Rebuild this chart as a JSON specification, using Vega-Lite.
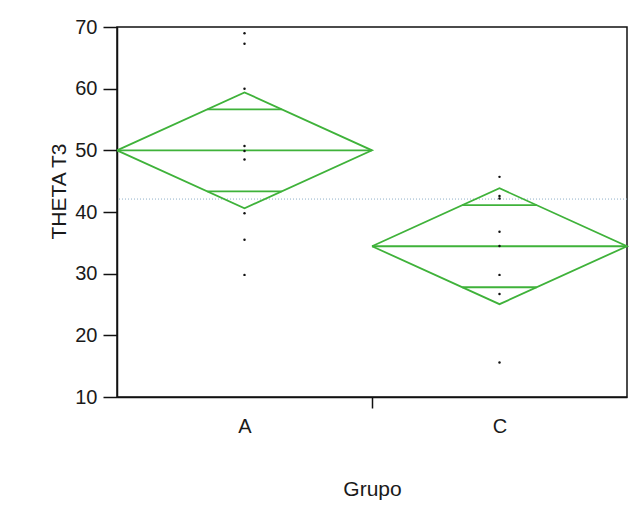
{
  "$schema": "https://vega.github.io/schema/vega-lite/v6.json",
  "width": 510,
  "height": 370,
  "autosize": {"type": "none"},
  "padding": {"left": 117, "top": 27, "right": 3, "bottom": 115},
  "background": "white",
  "config": {
    "font": "Liberation Sans",
    "view": {"stroke": "#111", "strokeWidth": 1.5},
    "axis": {
      "grid": false,
      "domainColor": "#111",
      "domainWidth": 1.5,
      "tickColor": "#111",
      "tickWidth": 1.5,
      "labelColor": "#1a1a1a",
      "labelFontSize": 20,
      "titleColor": "#1a1a1a",
      "titleFontSize": 21,
      "titleFontWeight": "normal"
    }
  },
  "datasets": {
    "points": [
      {"Grupo": "A", "pos": 0.5, "THETA T3": 69.0},
      {"Grupo": "A", "pos": 0.5, "THETA T3": 67.3},
      {"Grupo": "A", "pos": 0.5, "THETA T3": 60.0},
      {"Grupo": "A", "pos": 0.5, "THETA T3": 50.7},
      {"Grupo": "A", "pos": 0.5, "THETA T3": 49.9},
      {"Grupo": "A", "pos": 0.5, "THETA T3": 48.5},
      {"Grupo": "A", "pos": 0.5, "THETA T3": 39.8},
      {"Grupo": "A", "pos": 0.5, "THETA T3": 35.5},
      {"Grupo": "A", "pos": 0.5, "THETA T3": 29.8},
      {"Grupo": "C", "pos": 1.5, "THETA T3": 45.7},
      {"Grupo": "C", "pos": 1.5, "THETA T3": 42.6},
      {"Grupo": "C", "pos": 1.5, "THETA T3": 42.2},
      {"Grupo": "C", "pos": 1.5, "THETA T3": 36.8},
      {"Grupo": "C", "pos": 1.5, "THETA T3": 34.5},
      {"Grupo": "C", "pos": 1.5, "THETA T3": 29.8},
      {"Grupo": "C", "pos": 1.5, "THETA T3": 26.7},
      {"Grupo": "C", "pos": 1.5, "THETA T3": 15.6}
    ],
    "diamond": [
      {"Grupo": "A", "k": 0, "pos": 0.0, "THETA T3": 50.0},
      {"Grupo": "A", "k": 1, "pos": 0.5, "THETA T3": 59.4},
      {"Grupo": "A", "k": 2, "pos": 1.0, "THETA T3": 50.0},
      {"Grupo": "A", "k": 3, "pos": 0.5, "THETA T3": 40.6},
      {"Grupo": "A", "k": 4, "pos": 0.0, "THETA T3": 50.0},
      {"Grupo": "C", "k": 0, "pos": 1.0, "THETA T3": 34.45},
      {"Grupo": "C", "k": 1, "pos": 1.5, "THETA T3": 43.85},
      {"Grupo": "C", "k": 2, "pos": 2.0, "THETA T3": 34.45},
      {"Grupo": "C", "k": 3, "pos": 1.5, "THETA T3": 25.05},
      {"Grupo": "C", "k": 4, "pos": 1.0, "THETA T3": 34.45}
    ],
    "lines": [
      {"Grupo": "A", "line": "mean", "from": 0.0, "to": 1.0, "THETA T3": 50.0},
      {"Grupo": "A", "line": "overlap", "from": 0.354, "to": 0.646, "THETA T3": 56.65},
      {"Grupo": "A", "line": "overlap", "from": 0.354, "to": 0.646, "THETA T3": 43.35},
      {"Grupo": "C", "line": "mean", "from": 1.0, "to": 2.0, "THETA T3": 34.45},
      {"Grupo": "C", "line": "overlap", "from": 1.354, "to": 1.646, "THETA T3": 41.1},
      {"Grupo": "C", "line": "overlap", "from": 1.354, "to": 1.646, "THETA T3": 27.8}
    ],
    "grand": [{"THETA T3": 42.1}]
  },
  "layer": [
    {
      "data": {"name": "grand"},
      "mark": {"type": "rule", "color": "#8fb0c8", "strokeWidth": 1, "strokeDash": [1, 2]},
      "encoding": {
        "y": {
          "field": "THETA T3",
          "type": "quantitative",
          "scale": {"domain": [10, 70], "nice": false, "zero": false},
          "axis": {
            "title": "THETA T3",
            "values": [10, 20, 30, 40, 50, 60, 70],
            "tickSize": 14,
            "labelPadding": 6,
            "titlePadding": 5,
            "titleY": 164
          }
        }
      }
    },
    {
      "data": {"name": "diamond"},
      "mark": {"type": "line", "color": "#3fb23a", "strokeWidth": 1.8},
      "encoding": {
        "x": {
          "field": "pos",
          "type": "quantitative",
          "scale": {"domain": [0, 2], "nice": false, "zero": false},
          "axis": {
            "title": "Grupo",
            "values": [0.5, 1, 1.5],
            "labelExpr": "datum.value == 0.5 ? 'A' : (datum.value == 1.5 ? 'C' : '')",
            "tickSize": 11,
            "tickOpacity": {"condition": {"test": "datum.value == 1", "value": 1}, "value": 0},
            "labelPadding": 8,
            "titlePadding": 42
          }
        },
        "y": {"field": "THETA T3", "type": "quantitative"},
        "detail": {"field": "Grupo"},
        "order": {"field": "k", "type": "quantitative"}
      }
    },
    {
      "data": {"name": "lines"},
      "mark": {"type": "rule", "color": "#3fb23a", "strokeWidth": 1.8},
      "encoding": {
        "x": {"field": "from", "type": "quantitative"},
        "x2": {"field": "to"},
        "y": {"field": "THETA T3", "type": "quantitative"}
      }
    },
    {
      "data": {"name": "points"},
      "mark": {"type": "circle", "color": "#111", "size": 6, "opacity": 1},
      "encoding": {
        "x": {"field": "pos", "type": "quantitative"},
        "y": {"field": "THETA T3", "type": "quantitative"}
      }
    }
  ]
}
